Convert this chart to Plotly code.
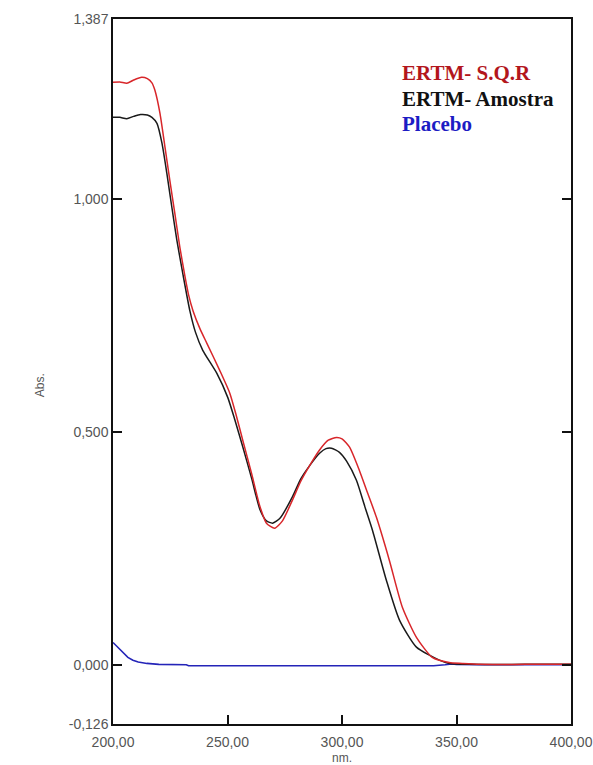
import plotly.graph_objects as go

# ---- data ----
red_nm = [200, 203, 206, 209, 212.5, 215, 217, 218.3, 220.5, 222.7, 224.8, 227.0, 229.2, 231.4, 233, 235,
          238, 241, 246.6, 251, 254, 256.6, 260.6, 264.1, 267, 270.6, 274, 278.4, 282, 285.8, 290.2, 294,
          297.6, 300, 303.3, 307.6, 310.7, 315.0, 320.7, 326.4, 332.5, 339.4, 346.8, 352.5, 360, 380, 400]
red_abs = [1.251, 1.252, 1.249, 1.256, 1.262, 1.259, 1.250, 1.234, 1.185, 1.112, 1.041, 0.970, 0.897, 0.835,
           0.795, 0.760, 0.722, 0.691, 0.633, 0.584, 0.533, 0.484, 0.410, 0.342, 0.305, 0.294, 0.310, 0.355,
           0.395, 0.428, 0.462, 0.483, 0.489, 0.486, 0.468, 0.418, 0.376, 0.318, 0.225, 0.124, 0.060, 0.017,
           0.006, 0.004, 0.002, 0.002, 0.002]

blk_nm = [200, 203, 206, 209, 212, 215, 217, 219.2, 221.4, 223.5, 225.7, 227.9, 230.5, 233.6, 236, 239.2,
          245.3, 250.1, 253.2, 256.6, 260.6, 264.1, 267, 269.7, 273, 278.4, 282, 285.8, 290.2, 293, 295.4,
          298.9, 302, 306.3, 310, 313.3, 319.4, 325.1, 332.5, 342.5, 346.8, 355, 380, 400]
blk_abs = [1.176, 1.176, 1.173, 1.178, 1.182, 1.181, 1.176, 1.163, 1.120, 1.056, 0.983, 0.912, 0.840, 0.760,
           0.715, 0.676, 0.627, 0.575, 0.527, 0.470, 0.400, 0.335, 0.310, 0.305, 0.316, 0.362, 0.400, 0.428,
           0.455, 0.465, 0.466, 0.457, 0.438, 0.397, 0.340, 0.290, 0.182, 0.097, 0.039, 0.011, 0.004, 0.002,
           0.002, 0.002]

pla_nm = [200, 201, 202.5, 204.4, 206.5, 208.7, 211, 214.8, 220, 232, 233, 260, 300, 340, 345, 348, 350,
          360, 400]
pla_abs = [0.049, 0.044, 0.035, 0.026, 0.017, 0.011, 0.007, 0.004, 0.002, 0.001, -0.001, -0.001, -0.001,
           -0.001, 0.001, 0.003, 0.002, 0.001, 0.001]

x_ticks = [200, 250, 300, 350, 400]
x_tick_text = ["200,00", "250,00", "300,00", "350,00", "400,00"]
y_ticks = [-0.126, 0.0, 0.5, 1.0, 1.387]
y_tick_text = ["-0,126", "0,000", "0,500", "1,000", "1,387"]

legend_names = ["ERTM- S.Q.R", "ERTM- Amostra", "Placebo"]
legend_colors = ["#b3161c", "#111111", "#1c1cc4"]

fig = go.Figure()
fig.add_trace(go.Scatter(x=pla_nm, y=pla_abs, mode="lines", line=dict(color="#2424b8", width=1.6),
                         name="Placebo"))
fig.add_trace(go.Scatter(x=blk_nm, y=blk_abs, mode="lines",
                         line=dict(color="#1a1a1a", width=1.5, shape="spline", smoothing=0.6),
                         name="ERTM- Amostra"))
fig.add_trace(go.Scatter(x=red_nm, y=red_abs, mode="lines",
                         line=dict(color="#d8262a", width=1.5, shape="spline", smoothing=0.6),
                         name="ERTM- S.Q.R"))

tick_font = dict(family="Liberation Sans, Arial", size=14, color="#555555")
fig.update_xaxes(range=[200, 400], tickvals=x_ticks, ticktext=x_tick_text, ticks="inside", ticklen=9,
                 tickwidth=1.5, tickcolor="#111", showline=True, linecolor="#111", linewidth=1.5,
                 mirror=True, showgrid=False, zeroline=False, tickfont=tick_font, ticklabelstandoff=4,
                 automargin=False)
fig.update_yaxes(range=[-0.126, 1.387], tickvals=y_ticks, ticktext=y_tick_text, ticks="inside", ticklen=9,
                 tickwidth=1.5, tickcolor="#111", showline=True, linecolor="#111", linewidth=1.5,
                 mirror="ticks", showgrid=False, zeroline=False, tickfont=tick_font, automargin=False)

annotations = []
for i, (name, col) in enumerate(zip(legend_names, legend_colors)):
    annotations.append(dict(x=0.626, y=0.923 - i * 0.0360, xref="paper", yref="paper", text="<b>%s</b>" % name,
                            showarrow=False, xanchor="left", yanchor="middle",
                            font=dict(family="Liberation Serif, Times New Roman", size=21, color=col)))
annotations.append(dict(x=0, y=0.601, xref="paper", yref="y", text="Abs.", textangle=-90, showarrow=False,
                        xanchor="center", yanchor="middle", xshift=-73,
                        font=dict(family="Liberation Sans, Arial", size=12, color="#555555")))
annotations.append(dict(x=300, y=0, xref="x", yref="paper", text="nm.", showarrow=False,
                        xanchor="center", yanchor="middle", yshift=-34,
                        font=dict(family="Liberation Sans, Arial", size=12, color="#555555")))

fig.update_layout(width=593, height=765, margin=dict(l=113, r=22, t=19, b=41),
                  paper_bgcolor="white", plot_bgcolor="white", showlegend=False,
                  annotations=annotations)

fig.write_html("out.html")
